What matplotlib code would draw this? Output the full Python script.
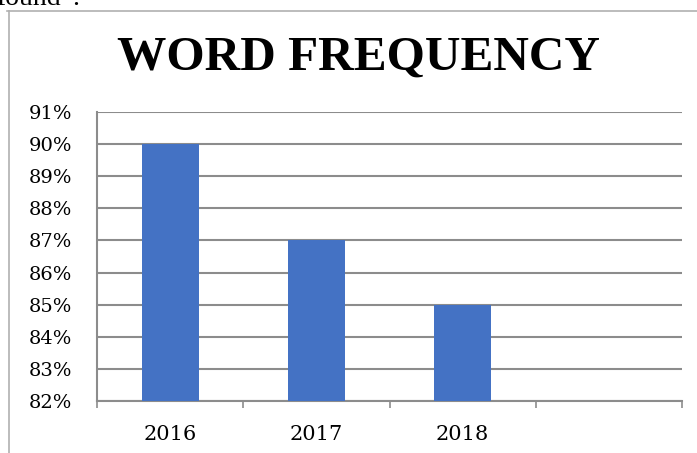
import matplotlib
matplotlib.use('Agg')
import matplotlib.pyplot as plt
from matplotlib.lines import Line2D
from matplotlib.ticker import FuncFormatter

# chart data
years = ['2016', '2017', '2018', '']
values = [90, 87, 85, None]
y_ticks = list(range(82, 92))

fig = plt.figure(figsize=(6.97, 4.53), dpi=100)
ax = fig.add_axes([97 / 697, 52 / 453, 585 / 697, 289 / 453])

grid_color = '#8c8c8c'
bar_color = '#4472C4'

# bars drawn from 82% baseline
xs = [i for i, v in enumerate(values) if v is not None]
hs = [v - 82 for v in values if v is not None]
ax.bar(xs, hs, bottom=82, width=0.39, color=bar_color, zorder=3)

ax.set_xlim(-0.5, len(years) - 0.5)
ax.set_ylim(82, 91)
ax.set_yticks(y_ticks)
ax.yaxis.set_major_formatter(FuncFormatter(lambda v, p: f"{int(v)}%"))
ax.grid(axis='y', color=grid_color, linewidth=1.5, zorder=0)

# category labels between boundary ticks
ax.set_xticks([i - 0.5 for i in range(len(years) + 1)])
ax.set_xticklabels([])
ax.set_xticks(range(len(years)), minor=True)
ax.set_xticklabels(years, minor=True)
ax.tick_params(axis='x', which='major', length=5, color=grid_color, width=1.2)
ax.tick_params(axis='x', which='minor', length=0, pad=17)
ax.tick_params(axis='y', length=0, pad=18)

for lbl in ax.get_xticklabels(minor=True):
    lbl.set_fontfamily('DejaVu Serif')
    lbl.set_fontsize(15)
for lbl in ax.get_yticklabels():
    lbl.set_fontfamily('DejaVu Serif')
    lbl.set_fontsize(14)

for s in ['top', 'right']:
    ax.spines[s].set_visible(False)
for s in ['left', 'bottom']:
    ax.spines[s].set_color(grid_color)
    ax.spines[s].set_linewidth(1.5)

fig.text(0.515, 1 - 58 / 453, 'WORD FREQUENCY', ha='center', va='center',
         fontfamily='Liberation Serif', fontweight='bold', fontsize=35.5)

# outer frame of the pasted chart
frame_color = '#b0b0b0'
fig.add_artist(Line2D([7 / 697, 1], [1 - 11 / 453, 1 - 11 / 453], color=frame_color, linewidth=1.2))
fig.add_artist(Line2D([9 / 697, 9 / 697], [0, 1 - 11 / 453], color=frame_color, linewidth=1.2))

# clipped text from the document above
fig.text(-0.005, 1 - 5 / 453, 'found\u201d.', ha='left', va='baseline',
         fontfamily='Liberation Serif', fontsize=20)

fig.savefig('out.png', dpi=100)
